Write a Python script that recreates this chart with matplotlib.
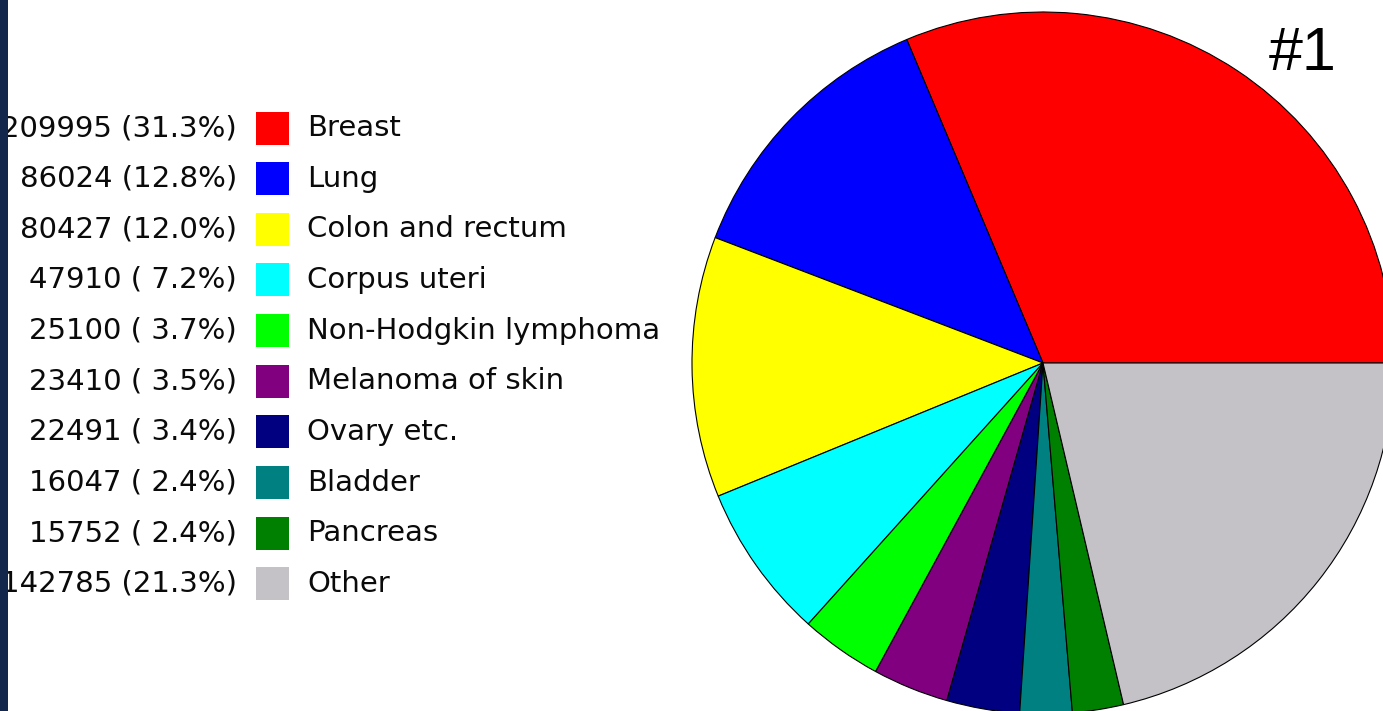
import matplotlib.pyplot as plt
from matplotlib.patches import Rectangle

# data
sites = ['Breast', 'Lung', 'Colon and rectum', 'Corpus uteri', 'Non-Hodgkin lymphoma',
         'Melanoma of skin', 'Ovary etc.', 'Bladder', 'Pancreas', 'Other']
counts = [209995, 86024, 80427, 47910, 25100, 23410, 22491, 16047, 15752, 142785]
colors = ['#ff0000', '#0000ff', '#ffff00', '#00ffff', '#00ff00',
          '#800080', '#000080', '#008080', '#008000', '#c4c2c6']

W, H = 1383, 711
fig = plt.figure(figsize=(W / 100, H / 100), dpi=100)
ax = fig.add_axes([0, 0, 1, 1])

# pie (partly cut off at right and bottom, like the screenshot)
ax.pie(counts, colors=colors, startangle=0, counterclock=True,
       center=(1043, H - 363), radius=351, frame=True,
       wedgeprops=dict(edgecolor='black', linewidth=0.8))

# legend: value (pct) + colour box + name
total = sum(counts)
y0, step = 128, 50.65
for i in range(len(sites)):
    y = H - (y0 + i * step)
    pct = 100.0 * counts[i] / total
    ax.text(237, y, '%d (%4.1f%%)' % (counts[i], pct), ha='right', va='center',
            fontsize=21, family='DejaVu Sans', color='#0a0a0a')
    ax.add_patch(Rectangle((256, y - 16.5), 33, 33, facecolor=colors[i],
                           edgecolor='none'))
    ax.text(307, y, sites[i], ha='left', va='center', fontsize=21,
            family='DejaVu Sans', color='#0a0a0a')

ax.text(1303, H - 54, '#1', ha='center', va='center', fontsize=44,
        family='Liberation Sans', color='black')

# dark strip on the left edge
ax.add_patch(Rectangle((0, 0), 8, H, facecolor='#13264b', edgecolor='none', zorder=10))

ax.set_xlim(0, W)
ax.set_ylim(0, H)
ax.set_aspect('auto')
ax.set_axis_off()

fig.savefig('out.png', dpi=100)
